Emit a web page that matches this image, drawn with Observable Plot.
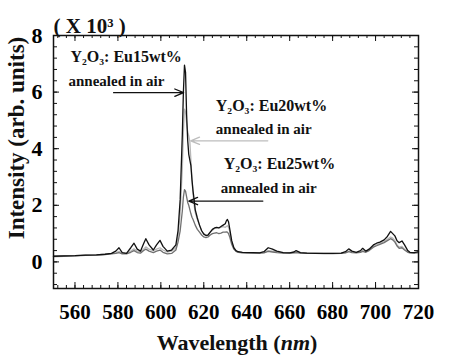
<!DOCTYPE html>
<html><head><meta charset="utf-8">
<script src="https://cdn.jsdelivr.net/npm/d3@7"></script>
<script src="https://cdn.jsdelivr.net/npm/@observablehq/plot@0.6"></script>
<style>body{margin:0;background:#fff;} svg{display:block;} svg text{font-family:"Liberation Serif","DejaVu Serif",serif !important;}</style>
</head><body><div id="chart"></div>
<script>
const wavelength = [550,555,560,565,570,574,577,579,580.5,582,584,586,587.5,589,590.5,592,593,594.5,596.5,598,599.6,601,603,605,607,608,609,610,610.5,611,611.5,612,612.5,613,613.5,614,614.5,615,615.5,616,617,618,619,620,621,622,623,624,625,626,627,628,629,630,630.5,631,631.5,632,633,634,635,636,638,640,643,646,648,650,652,654,657,660,662,663,665,668,672,676,680,684,686,687.5,689,691,693,694,695.5,697,699,700.5,702,704,705.5,707,708,709,710,711,712.3,713.5,715,716,718,720];
const eu15 = [0.2,0.21,0.22,0.24,0.25,0.27,0.3,0.38,0.5,0.33,0.3,0.5,0.66,0.45,0.38,0.65,0.82,0.6,0.42,0.6,0.76,0.55,0.38,0.42,0.6,1.1,2.2,4.5,6.0,6.95,6.7,5.2,4.3,3.8,3.6,3.4,2.9,2.5,2.2,1.85,1.55,1.3,1.1,0.98,0.93,0.95,1.05,1.15,1.2,1.22,1.2,1.25,1.3,1.35,1.45,1.5,1.42,1.2,0.75,0.5,0.4,0.36,0.34,0.33,0.33,0.32,0.36,0.5,0.45,0.38,0.33,0.32,0.35,0.4,0.33,0.31,0.3,0.3,0.3,0.31,0.36,0.46,0.38,0.34,0.4,0.48,0.38,0.45,0.6,0.66,0.7,0.78,0.9,1.08,1.0,0.92,0.75,0.68,0.74,0.6,0.4,0.34,0.33,0.36];
const eu20 = [0.2,0.21,0.22,0.24,0.25,0.27,0.29,0.32,0.37,0.3,0.3,0.38,0.46,0.38,0.36,0.46,0.53,0.45,0.4,0.45,0.5,0.42,0.35,0.38,0.5,0.9,1.7,3.3,4.6,5.4,5.3,4.9,4.6,4.45,4.25,3.6,2.9,2.4,2.0,1.75,1.5,1.3,1.1,1.0,0.95,0.96,1.05,1.12,1.18,1.2,1.2,1.22,1.25,1.22,1.25,1.28,1.22,1.1,0.7,0.48,0.38,0.35,0.33,0.33,0.32,0.32,0.33,0.4,0.38,0.35,0.32,0.32,0.33,0.35,0.32,0.31,0.3,0.3,0.3,0.31,0.33,0.38,0.35,0.33,0.36,0.4,0.36,0.42,0.55,0.6,0.65,0.72,0.8,0.88,0.84,0.75,0.6,0.52,0.55,0.45,0.36,0.33,0.32,0.34];
const eu25 = [0.19,0.2,0.21,0.23,0.24,0.26,0.28,0.3,0.33,0.28,0.28,0.34,0.4,0.33,0.31,0.4,0.45,0.38,0.33,0.38,0.42,0.34,0.28,0.3,0.42,0.7,1.1,1.8,2.3,2.55,2.5,2.3,2.1,2.0,1.85,1.7,1.58,1.5,1.4,1.3,1.15,1.05,0.95,0.88,0.86,0.88,0.95,1.0,1.02,1.03,1.0,1.02,1.05,1.05,1.06,1.05,1.0,0.9,0.62,0.45,0.37,0.34,0.32,0.32,0.31,0.31,0.32,0.37,0.35,0.33,0.31,0.31,0.32,0.33,0.31,0.3,0.3,0.29,0.29,0.3,0.32,0.36,0.33,0.32,0.34,0.37,0.34,0.4,0.52,0.57,0.62,0.68,0.75,0.82,0.78,0.7,0.56,0.48,0.5,0.42,0.34,0.32,0.31,0.33];

const seriesNames = ["Eu20wt%", "Eu25wt%", "Eu15wt%"];
const seriesValues = [eu20, eu25, eu15];
const seriesColors = ["#b8b8b8", "#707070", "#111111"];

const xMajorTicks = [560,580,600,620,640,660,680,700,720];
const xMinorTicks = d3.range(552, 720, 4);
const yMajorTicks = [0,2,4,6,8];
const yMinorTicks = d3.range(-0.8, 8.01, 0.4).map(v => +v.toFixed(1));

const labelX = [557.9, 557.0, 625.6, 625.6, 629.3, 627.9];
const labelY = [7.26, 6.4, 5.52, 4.70, 3.46, 2.61];
const labelText = ["Y₂O₃: Eu15wt%", "annealed in air", "Y₂O₃: Eu20wt%", "annealed in air", "Y₂O₃: Eu25wt%", "annealed in air"];
const labelSize = [16, 15, 16, 15, 16, 15];

const arrowX1 = [578.0, 649.8, 647.5];
const arrowX2 = [610.6, 613.9, 613.0];
const arrowY = [5.98, 4.28, 2.15];
const arrowColor = ["#111111", "#bdbdbd", "#111111"];

const data = seriesNames.flatMap((s, k) => wavelength.map((w, i) => ({series: s, w, v: seriesValues[k][i]})));
const labels = labelText.map((t, i) => ({x: labelX[i], y: labelY[i], t, s: labelSize[i]}));
const arrows = arrowX1.map((x1, i) => ({x1, x2: arrowX2[i], y: arrowY[i], c: arrowColor[i]}));

const W = 474, H = 357, mL = 53, mR = 56, mT = 35, mB = 69;
const FW = W - mL - mR, FH = H - mT - mB;
const serif = "Liberation Serif, DejaVu Serif, serif";

const chart = Plot.plot({
  width: W, height: H,
  marginLeft: mL, marginRight: mR, marginTop: mT, marginBottom: mB,
  style: {fontFamily: serif, background: "#fff"},
  x: {domain: [550, 720]},
  y: {domain: [-0.94, 8]},
  color: {domain: seriesNames, range: seriesColors},
  marks: [
    Plot.axisX(xMajorTicks, {tickSize: 0, tickPadding: 16, fontSize: 21, fontWeight: "bold", label: null, tickFormat: d => d}),
    Plot.axisY(yMajorTicks, {tickSize: 0, tickPadding: 11, fontSize: 22, fontWeight: "bold", label: null, tickFormat: d => d}),
    Plot.line(data, {x: "w", y: "v", z: "series", stroke: "series", strokeWidth: 1.3}),
    Plot.tickX(xMinorTicks, {x: d => d, insetTop: FH - 3, stroke: "#111"}),
    Plot.tickX(xMajorTicks, {x: d => d, insetTop: FH - 6, stroke: "#111"}),
    Plot.tickX(xMinorTicks, {x: d => d, insetBottom: FH - 3, stroke: "#111"}),
    Plot.tickX(xMajorTicks, {x: d => d, insetBottom: FH - 6, stroke: "#111"}),
    Plot.tickY(yMinorTicks, {y: d => d, insetRight: FW - 4, stroke: "#111"}),
    Plot.tickY(yMajorTicks, {y: d => d, insetRight: FW - 6, stroke: "#111"}),
    Plot.tickY(yMinorTicks, {y: d => d, insetLeft: FW - 4, stroke: "#111"}),
    Plot.tickY(yMajorTicks, {y: d => d, insetLeft: FW - 6, stroke: "#111"}),
    Plot.frame({stroke: "#111", strokeWidth: 1.5}),
    Plot.arrow(arrows, {x1: "x1", x2: "x2", y1: "y", y2: "y", stroke: "c", strokeWidth: 1.3, headLength: 11, headAngle: 45}),
    Plot.text(labels, {x: "x", y: "y", text: "t", fontSize: "s", textAnchor: "start", fontWeight: "bold", fill: "#111"}),
    Plot.text(["( X 10³ )"], {frameAnchor: "top-left", dy: -17, textAnchor: "start", fontSize: 21, fontWeight: "bold", fill: "#111"})
  ]
});
document.getElementById("chart").appendChild(chart);

const svg = d3.select(chart);
const xl = svg.append("text").attr("x", 237).attr("y", 350).attr("text-anchor", "middle")
  .attr("font-weight", "bold").attr("font-size", 22).attr("fill", "#111");
xl.append("tspan").text("Wavelength (");
xl.append("tspan").attr("font-style", "italic").text("nm");
xl.append("tspan").text(")");
svg.append("text").attr("transform", "translate(24,138) rotate(-90)").attr("text-anchor", "middle")
  .attr("font-weight", "bold").attr("font-size", 23).attr("fill", "#111")
  .text("Intensity (arb. units)");
</script></body></html>
